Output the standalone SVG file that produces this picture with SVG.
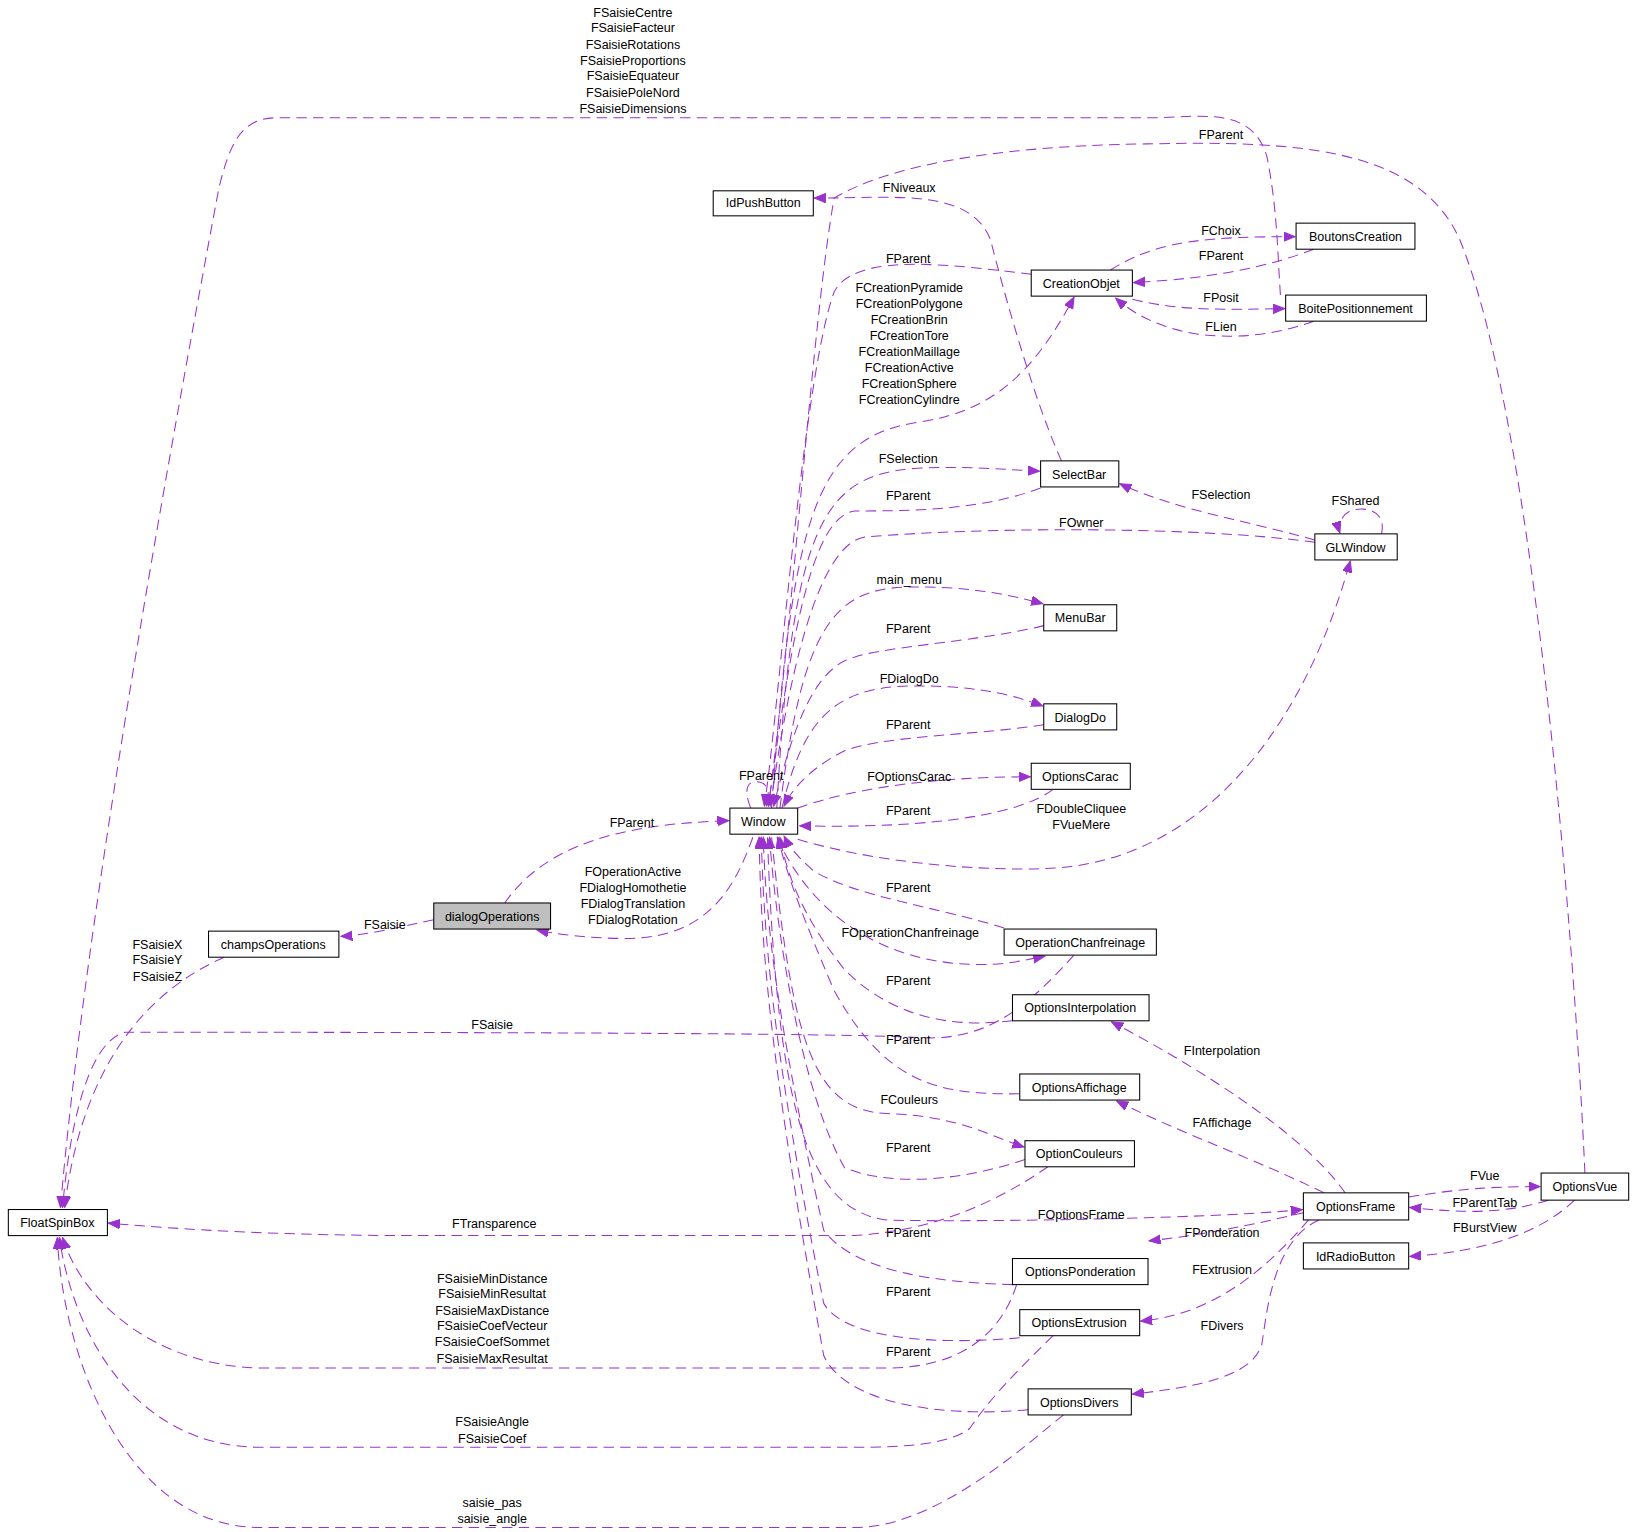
<svg xmlns="http://www.w3.org/2000/svg" width="1635" height="1532" viewBox="0 0 1635 1532">
<style>
.n rect{fill:#fff;stroke:#000;stroke-width:1}
.n text,.l{font-family:"Liberation Sans",Arial,sans-serif;font-size:12px;fill:#000;text-anchor:middle}
.e path{fill:none;stroke:#9a32cd;stroke-width:1;stroke-dasharray:10,6;marker-end:url(#a)}
</style>
<defs>
<marker id="a" markerUnits="userSpaceOnUse" markerWidth="12" markerHeight="10" refX="11" refY="4.5" orient="auto">
<path d="M0,0 L11,4.5 L0,9 Z" fill="#9a32cd" stroke="#9a32cd"/>
</marker>
</defs>
<rect width="1635" height="1532" fill="#fff"/>
<g transform="scale(1.0427)">
<g id="edges" class="e">
<path d="M484,866 C530,800 620,790 699,787"/>
<path d="M722,803 C705,850 680,900 600,900 C560,900 530,895 515,892"/>
<path d="M416,882 C380,890 350,897 327,898"/>
<path d="M215,918 C120,960 75,1050 62,1158"/>
<path d="M1228,283 C1225,240 1225,200 1215,150 C1200,100 1150,113 1100,113 L265,113 C230,113 220,140 210,180 C150,500 80,900 58,1158"/>
<path d="M1520,1125 C1510,900 1470,400 1400,230 C1360,140 1240,135 1100,138 C950,140 850,160 800,190 C780,300 760,600 737,773"/>
<path d="M1018,442 C990,380 960,270 950,230 C930,180 860,190 781,190"/>
<path d="M989,263 C920,255 820,240 800,280 C770,360 745,700 733,773"/>
<path d="M740,775 C760,500 780,420 880,405 C950,395 990,360 1030,285"/>
<path d="M1065,259 C1110,230 1160,227 1242,227"/>
<path d="M1260,239 C1200,262 1140,268 1087,271"/>
<path d="M1086,287 C1130,298 1170,297 1232,296"/>
<path d="M1260,308 C1200,330 1120,330 1070,286"/>
<path d="M745,775 C760,500 790,455 880,449 C930,447 960,450 997,452"/>
<path d="M998,468 C940,490 870,490 820,490 C780,495 760,600 737,773"/>
<path d="M1261,518 C1200,500 1130,490 1074,464"/>
<path d="M1325,512 C1330,490 1310,485 1295,490 C1285,495 1283,505 1285,511"/>
<path d="M1261,520 C1150,505 950,505 830,515 C790,520 760,620 739,773"/>
<path d="M748,775 C770,600 800,565 870,563 C920,562 960,568 1000,579"/>
<path d="M1001,600 C940,615 850,620 820,630 C780,640 760,700 742,773"/>
<path d="M750,775 C770,690 800,660 870,658 C920,657 960,662 1000,677"/>
<path d="M1001,695 C940,705 850,705 810,720 C780,735 760,755 752,773"/>
<path d="M765,775 C820,755 900,745 988,745"/>
<path d="M1010,757 C980,780 900,795 767,792"/>
<path d="M765,805 C850,830 950,835 1000,833 C1150,830 1250,700 1295,538"/>
<path d="M720,775 C712,755 718,748 728,750 C738,752 738,762 735,773"/>
<path d="M963,890 C900,870 820,860 780,835 C765,822 757,812 752,802"/>
<path d="M745,803 C780,880 850,925 940,925 C970,925 985,920 1002,917"/>
<path d="M971,979 C920,985 860,980 810,930 C770,880 755,840 748,803"/>
<path d="M1030,916 C990,960 950,1000 880,995 C800,990 300,990 120,990 C80,1000 65,1100 60,1158"/>
<path d="M978,1049 C900,1050 850,1040 800,950 C770,880 755,840 746,803"/>
<path d="M740,803 C760,1000 780,1065 850,1068 C920,1070 950,1090 982,1100"/>
<path d="M983,1112 C930,1130 860,1140 810,1120 C770,1050 745,900 738,803"/>
<path d="M1005,1119 C960,1150 900,1180 820,1185 L400,1185 C250,1185 150,1177 104,1173"/>
<path d="M736,803 C745,1050 770,1160 850,1170 C900,1172 1150,1170 1249,1160"/>
<path d="M971,1232 C900,1230 820,1220 790,1180 C750,1000 735,900 732,803"/>
<path d="M978,1283 C900,1290 810,1285 790,1250 C740,1000 733,900 730,803"/>
<path d="M986,1352 C900,1360 810,1345 790,1300 C735,1000 730,900 728,803"/>
<path d="M975,1232 C960,1280 920,1312 850,1312 L250,1312 C150,1310 80,1250 60,1187"/>
<path d="M1010,1281 C980,1310 950,1340 930,1370 C910,1385 870,1388 820,1388 L250,1388 C130,1388 70,1280 57,1187"/>
<path d="M1020,1357 C990,1380 900,1465 820,1465 L250,1465 C120,1465 60,1300 55,1187"/>
<path d="M1290,1144 C1260,1100 1180,1040 1066,980"/>
<path d="M1270,1144 C1200,1110 1140,1090 1071,1056"/>
<path d="M1250,1163 C1200,1175 1150,1185 1102,1190"/>
<path d="M1255,1170 C1220,1210 1170,1260 1094,1267"/>
<path d="M1265,1170 C1220,1190 1215,1260 1210,1290 C1200,1320 1150,1330 1086,1337"/>
<path d="M1351,1148 C1400,1140 1430,1138 1477,1138"/>
<path d="M1485,1151 C1440,1165 1400,1163 1352,1158"/>
<path d="M1510,1151 C1480,1180 1430,1200 1352,1205"/>
</g>
<g id="labels">
<text class="l" x="606" y="793">FParent</text>
<text class="l" x="607" y="840">FOperationActive</text>
<text class="l" x="607" y="855">FDialogHomothetie</text>
<text class="l" x="607" y="871">FDialogTranslation</text>
<text class="l" x="607" y="886">FDialogRotation</text>
<text class="l" x="369" y="891">FSaisie</text>
<text class="l" x="151" y="910">FSaisieX</text>
<text class="l" x="151" y="925">FSaisieY</text>
<text class="l" x="151" y="941">FSaisieZ</text>
<text class="l" x="607" y="16">FSaisieCentre</text>
<text class="l" x="607" y="31">FSaisieFacteur</text>
<text class="l" x="607" y="47">FSaisieRotations</text>
<text class="l" x="607" y="62">FSaisieProportions</text>
<text class="l" x="607" y="77">FSaisieEquateur</text>
<text class="l" x="607" y="93">FSaisiePoleNord</text>
<text class="l" x="607" y="108">FSaisieDimensions</text>
<text class="l" x="1171" y="133">FParent</text>
<text class="l" x="872" y="184">FNiveaux</text>
<text class="l" x="871" y="252">FParent</text>
<text class="l" x="872" y="280">FCreationPyramide</text>
<text class="l" x="872" y="295">FCreationPolygone</text>
<text class="l" x="872" y="311">FCreationBrin</text>
<text class="l" x="872" y="326">FCreationTore</text>
<text class="l" x="872" y="341">FCreationMaillage</text>
<text class="l" x="872" y="357">FCreationActive</text>
<text class="l" x="872" y="372">FCreationSphere</text>
<text class="l" x="872" y="387">FCreationCylindre</text>
<text class="l" x="1171" y="225">FChoix</text>
<text class="l" x="1171" y="249">FParent</text>
<text class="l" x="1171" y="290">FPosit</text>
<text class="l" x="1171" y="317">FLien</text>
<text class="l" x="871" y="444">FSelection</text>
<text class="l" x="871" y="480">FParent</text>
<text class="l" x="1171" y="479">FSelection</text>
<text class="l" x="1300" y="484">FShared</text>
<text class="l" x="1037" y="505">FOwner</text>
<text class="l" x="872" y="560">main_menu</text>
<text class="l" x="871" y="607">FParent</text>
<text class="l" x="872" y="655">FDialogDo</text>
<text class="l" x="871" y="699">FParent</text>
<text class="l" x="730" y="748">FParent</text>
<text class="l" x="872" y="749">FOptionsCarac</text>
<text class="l" x="871" y="782">FParent</text>
<text class="l" x="1037" y="780">FDoubleCliquee</text>
<text class="l" x="1037" y="795">FVueMere</text>
<text class="l" x="871" y="855">FParent</text>
<text class="l" x="873" y="899">FOperationChanfreinage</text>
<text class="l" x="871" y="945">FParent</text>
<text class="l" x="472" y="987">FSaisie</text>
<text class="l" x="871" y="1001">FParent</text>
<text class="l" x="872" y="1059">FCouleurs</text>
<text class="l" x="871" y="1105">FParent</text>
<text class="l" x="474" y="1178">FTransparence</text>
<text class="l" x="1037" y="1169">FOptionsFrame</text>
<text class="l" x="871" y="1186">FParent</text>
<text class="l" x="871" y="1243">FParent</text>
<text class="l" x="871" y="1300">FParent</text>
<text class="l" x="472" y="1230">FSaisieMinDistance</text>
<text class="l" x="472" y="1245">FSaisieMinResultat</text>
<text class="l" x="472" y="1261">FSaisieMaxDistance</text>
<text class="l" x="472" y="1276">FSaisieCoefVecteur</text>
<text class="l" x="472" y="1291">FSaisieCoefSommet</text>
<text class="l" x="472" y="1307">FSaisieMaxResultat</text>
<text class="l" x="472" y="1368">FSaisieAngle</text>
<text class="l" x="472" y="1384">FSaisieCoef</text>
<text class="l" x="472" y="1445">saisie_pas</text>
<text class="l" x="472" y="1461">saisie_angle</text>
<text class="l" x="1172" y="1012">FInterpolation</text>
<text class="l" x="1172" y="1081">FAffichage</text>
<text class="l" x="1172" y="1186">FPonderation</text>
<text class="l" x="1172" y="1222">FExtrusion</text>
<text class="l" x="1172" y="1276">FDivers</text>
<text class="l" x="1424" y="1132">FVue</text>
<text class="l" x="1424" y="1158">FParentTab</text>
<text class="l" x="1424" y="1182">FBurstView</text>
</g>
<g id="IdPushButton" class="n"><rect x="684" y="183" width="96" height="24"/><text x="732" y="199">IdPushButton</text></g>
<g id="BoutonsCreation" class="n"><rect x="1243" y="214" width="114" height="25"/><text x="1300" y="231">BoutonsCreation</text></g>
<g id="CreationObjet" class="n"><rect x="989" y="259" width="97" height="25"/><text x="1037" y="276">CreationObjet</text></g>
<g id="BoitePositionnement" class="n"><rect x="1233" y="283" width="135" height="25"/><text x="1300" y="300">BoitePositionnement</text></g>
<g id="SelectBar" class="n"><rect x="998" y="442" width="75" height="25"/><text x="1035" y="459">SelectBar</text></g>
<g id="GLWindow" class="n"><rect x="1261" y="512" width="79" height="25"/><text x="1300" y="529">GLWindow</text></g>
<g id="MenuBar" class="n"><rect x="1001" y="580" width="70" height="25"/><text x="1036" y="597">MenuBar</text></g>
<g id="DialogDo" class="n"><rect x="1001" y="675" width="70" height="25"/><text x="1036" y="692">DialogDo</text></g>
<g id="OptionsCarac" class="n"><rect x="989" y="732" width="95" height="25"/><text x="1036" y="749">OptionsCarac</text></g>
<g id="Window" class="n"><rect x="700" y="775" width="65" height="25"/><text x="732" y="792">Window</text></g>
<g id="dialogOperations" class="n"><rect x="416" y="866" width="112" height="25" style="fill:#bfbfbf"/><text x="472" y="883">dialogOperations</text></g>
<g id="champsOperations" class="n"><rect x="200" y="893" width="125" height="25"/><text x="262" y="910">champsOperations</text></g>
<g id="OperationChanfreinage" class="n"><rect x="963" y="891" width="146" height="25"/><text x="1036" y="908">OperationChanfreinage</text></g>
<g id="OptionsInterpolation" class="n"><rect x="971" y="954" width="131" height="25"/><text x="1036" y="971">OptionsInterpolation</text></g>
<g id="OptionsAffichage" class="n"><rect x="978" y="1030" width="115" height="25"/><text x="1035" y="1047">OptionsAffichage</text></g>
<g id="OptionCouleurs" class="n"><rect x="983" y="1094" width="105" height="25"/><text x="1035" y="1111">OptionCouleurs</text></g>
<g id="FloatSpinBox" class="n"><rect x="8" y="1160" width="95" height="25"/><text x="55" y="1177">FloatSpinBox</text></g>
<g id="OptionsFrame" class="n"><rect x="1250" y="1144" width="101" height="26"/><text x="1300" y="1161">OptionsFrame</text></g>
<g id="OptionsVue" class="n"><rect x="1478" y="1125" width="84" height="26"/><text x="1520" y="1142">OptionsVue</text></g>
<g id="IdRadioButton" class="n"><rect x="1250" y="1192" width="101" height="25"/><text x="1300" y="1209">IdRadioButton</text></g>
<g id="OptionsPonderation" class="n"><rect x="971" y="1207" width="130" height="25"/><text x="1036" y="1224">OptionsPonderation</text></g>
<g id="OptionsExtrusion" class="n"><rect x="978" y="1256" width="115" height="25"/><text x="1035" y="1273">OptionsExtrusion</text></g>
<g id="OptionsDivers" class="n"><rect x="986" y="1332" width="99" height="25"/><text x="1035" y="1349">OptionsDivers</text></g>
</g>
</svg>
